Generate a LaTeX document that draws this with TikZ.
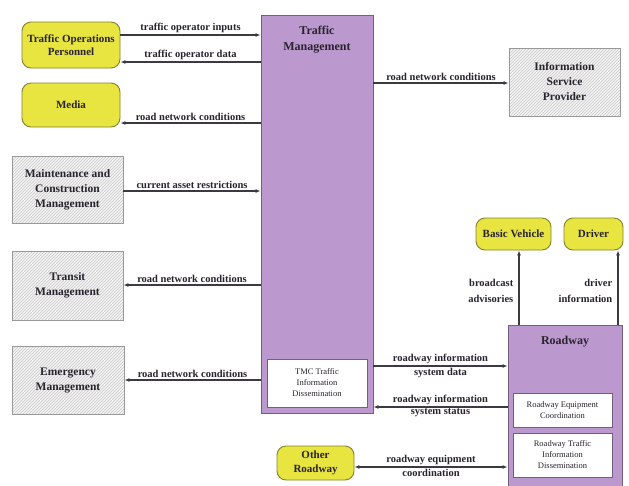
\documentclass[tikz,border=0pt]{standalone}
\usepackage{fontspec}
\setmainfont{Liberation Serif}
\usetikzlibrary{patterns,arrows.meta}
\definecolor{ylw}{RGB}{232,228,64}
\definecolor{ylwb}{RGB}{130,130,50}
\definecolor{prp}{RGB}{187,152,205}
\definecolor{prpb}{RGB}{115,95,125}
\definecolor{hbg}{RGB}{242,242,242}
\definecolor{ink}{RGB}{40,35,45}
\begin{document}
\begin{tikzpicture}[x=1pt,y=-1pt,
  every node/.style={text=ink},
  ext/.style={draw=ylwb, line width=0.9pt, fill=ylw, rounded corners=9pt, align=center,
    font=\fontsize{11}{13.5}\selectfont\bfseries, inner sep=0pt},
  gbox/.style={draw=gray!80, line width=0.9pt, preaction={fill=hbg}, pattern=north east lines,
    pattern color=gray!40, align=center, font=\fontsize{11.5}{15}\selectfont\bfseries, inner sep=0pt},
  pbox/.style={draw=prpb, line width=0.9pt, fill=prp, inner sep=0pt},
  wbox/.style={draw=prpb, line width=0.8pt, fill=white, align=center,
    font=\fontsize{8.5}{11}\selectfont, inner sep=0pt},
  ttl/.style={font=\fontsize{12}{16}\selectfont\bfseries, align=center},
  lbl/.style={font=\fontsize{10.5}{16.5}\selectfont\bfseries, inner sep=1.5pt},
  arr/.style={draw=ink!90, line width=1.1pt, -{Latex[length=5pt,width=4pt]}},
  darr/.style={draw=ink!90, line width=1.1pt, {Latex[length=5pt,width=4pt]}-{Latex[length=5pt,width=4pt]}}
]
\clip (0,0) rectangle (629,485);
\useasboundingbox (0,0) rectangle (629,485);
\fill[white] (0,0) rectangle (629,485);

% left column
\node[ext, minimum width=98pt, minimum height=46pt] (top) at (71,45) {Traffic Operations\\Personnel};
\node[ext, minimum width=98pt, minimum height=44pt] (media) at (71,105) {Media};
\node[gbox, minimum width=111pt, minimum height=67pt] (maint) at (67.5,190) {Maintenance and\\Construction\\Management};
\node[gbox, minimum width=111pt, minimum height=69pt] (transit) at (67.5,285.5) {Transit\\Management};
\node[gbox, minimum width=112pt, minimum height=68pt] (emerg) at (68,380) {Emergency\\Management};

% traffic management
\node[pbox, minimum width=112pt, minimum height=398pt] (tm) at (317,214) {};
\node[ttl] (tmt) at (317,40) {Traffic\\Management};
\node[wbox, minimum width=100pt, minimum height=48pt] (tmc) at (317,383) {TMC Traffic\\Information\\Dissemination};

% right side
\node[gbox, minimum width=111pt, minimum height=68pt] (isp) at (564.5,82) {Information\\Service\\Provider};
\node[ext, minimum width=75pt, minimum height=32pt] (bv) at (513.5,234) {Basic Vehicle};
\node[ext, minimum width=59pt, minimum height=32pt] (drv) at (593.5,234) {Driver};
\node[pbox, minimum width=114pt, minimum height=170pt] (road) at (565,410) {};
\node[ttl] (roadt) at (565,342) {Roadway};
\node[wbox, minimum width=99pt, minimum height=34pt] (rec) at (562.5,410) {Roadway Equipment\\Coordination};
\node[wbox, minimum width=99pt, minimum height=44pt] (rtid) at (562.5,455) {Roadway Traffic\\Information\\Dissemination};
\node[ext, minimum width=77pt, minimum height=34pt] (other) at (315.5,463) {Other\\Roadway};

% connectors
\draw[arr] (top.east |- 0,35) -- node[lbl, above] {traffic operator inputs} (tm.west |- 0,35);
\draw[arr] (tm.west |- 0,62) -- node[lbl, above] {traffic operator data} (top.east |- 0,62);
\draw[arr] (tm.west |- 0,123) -- node[lbl, above] {road network conditions} (media.east |- 0,123);
\draw[arr] (maint.east |- 0,191) -- node[lbl, above] {current asset restrictions} (tm.west |- 0,191);
\draw[arr] (tm.west |- 0,285) -- node[lbl, above] {road network conditions} (transit.east |- 0,285);
\draw[arr] (tm.west |- 0,380) -- node[lbl, above] {road network conditions} (emerg.east |- 0,380);
\draw[arr] (tm.east |- 0,83) -- node[lbl, above] {road network conditions} (isp.west |- 0,83);
\draw[arr] (tm.east |- 0,366) -- node[lbl, above] {roadway information} node[lbl, below] {system data} (road.west |- 0,366);
\draw[arr] (road.west |- 0,407) -- node[lbl, above] {roadway information} node[lbl, below] {system status} (tm.east |- 0,407);
\draw[darr] (other.east |- 0,467) -- node[lbl, above] {roadway equipment} node[lbl, below] {coordination} (road.west |- 0,467);
\draw[arr] (road.north -| 519,0) -- (bv.south -| 519,0);
\draw[arr] (road.north -| 618,0) -- (drv.south -| 618,0);
\node[lbl, align=right, anchor=east] (bal) at (515,291) {broadcast\\advisories};
\node[lbl, align=right, anchor=east] (dil) at (614,291) {driver\\information};
\end{tikzpicture}
\end{document}
